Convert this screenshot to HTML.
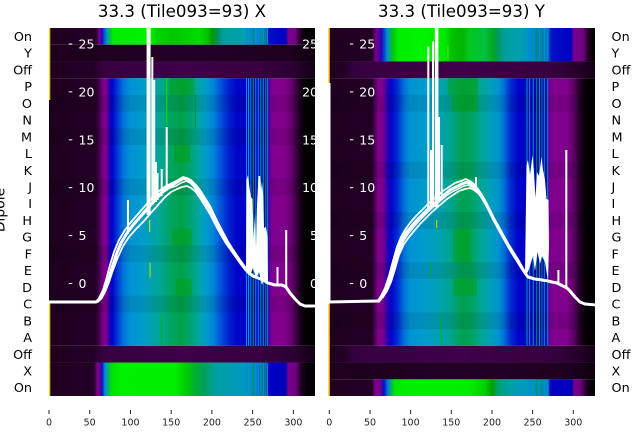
<!DOCTYPE html>
<html><head><meta charset="utf-8"><style>
html,body{margin:0;padding:0;background:#fff;width:640px;height:440px;overflow:hidden}
svg{display:block}
text{font-family:"DejaVu Sans","Liberation Sans",sans-serif}
</style></head><body>
<svg width="640" height="440" viewBox="0 0 640 440" xmlns="http://www.w3.org/2000/svg">
<defs>
<linearGradient id="LM" gradientUnits="userSpaceOnUse" x1="0" y1="0" x2="1000" y2="0">
<stop offset=".049" stop-color="#1d001f"/><stop offset=".096" stop-color="#230026"/><stop offset=".100" stop-color="#50005a"/><stop offset=".103" stop-color="#7c008a"/><stop offset=".107" stop-color="#7c008e"/><stop offset=".109" stop-color="#2000b8"/><stop offset=".113" stop-color="#0008cc"/><stop offset=".118" stop-color="#0040d6"/><stop offset=".124" stop-color="#0078d8"/><stop offset=".130" stop-color="#0092d4"/><stop offset=".142" stop-color="#009ccc"/><stop offset=".152" stop-color="#00a2b0"/><stop offset=".162" stop-color="#00a68c"/><stop offset=".172" stop-color="#00a45c"/><stop offset=".182" stop-color="#00a048"/><stop offset=".190" stop-color="#00a46c"/><stop offset=".198" stop-color="#00a6a0"/><stop offset=".206" stop-color="#009ccc"/><stop offset=".214" stop-color="#0080d8"/><stop offset=".221" stop-color="#0050d8"/><stop offset=".229" stop-color="#0020d0"/><stop offset=".237" stop-color="#0004c8"/><stop offset=".267" stop-color="#0000c4"/><stop offset=".270" stop-color="#6a0098"/><stop offset=".274" stop-color="#80008e"/><stop offset=".286" stop-color="#80008c"/><stop offset=".293" stop-color="#5a0064"/><stop offset=".299" stop-color="#220026"/><stop offset=".304" stop-color="#060006"/><stop offset=".315" stop-color="#000000"/>
</linearGradient>
<linearGradient id="LOnT" gradientUnits="userSpaceOnUse" x1="0" y1="0" x2="1000" y2="0">
<stop offset=".049" stop-color="#1d001f"/><stop offset=".096" stop-color="#230026"/><stop offset=".099" stop-color="#7a0088"/><stop offset=".102" stop-color="#2000c0"/><stop offset=".104" stop-color="#0050d0"/><stop offset=".107" stop-color="#0098c8"/><stop offset=".110" stop-color="#00c040"/><stop offset=".113" stop-color="#00ec00"/><stop offset=".150" stop-color="#00f200"/><stop offset=".157" stop-color="#00d400"/><stop offset=".172" stop-color="#00c800"/><stop offset=".185" stop-color="#00d000"/><stop offset=".200" stop-color="#00dc00"/><stop offset=".208" stop-color="#00c000"/><stop offset=".212" stop-color="#009800"/><stop offset=".218" stop-color="#009060"/><stop offset=".223" stop-color="#00a0a0"/><stop offset=".245" stop-color="#00a0b0"/><stop offset=".248" stop-color="#0090d0"/><stop offset=".266" stop-color="#0070d0"/><stop offset=".268" stop-color="#0010c8"/><stop offset=".286" stop-color="#0000c0"/><stop offset=".288" stop-color="#78008c"/><stop offset=".295" stop-color="#780088"/><stop offset=".299" stop-color="#300036"/><stop offset=".305" stop-color="#080008"/><stop offset=".315" stop-color="#000000"/>
</linearGradient>
<linearGradient id="LOnB" gradientUnits="userSpaceOnUse" x1="0" y1="0" x2="1000" y2="0">
<stop offset=".049" stop-color="#1d001f"/><stop offset=".094" stop-color="#230026"/><stop offset=".097" stop-color="#7a0088"/><stop offset=".100" stop-color="#6a0090"/><stop offset=".102" stop-color="#0010c8"/><stop offset=".105" stop-color="#0090d8"/><stop offset=".108" stop-color="#00b070"/><stop offset=".112" stop-color="#00e000"/><stop offset=".120" stop-color="#00f000"/><stop offset=".175" stop-color="#00ee00"/><stop offset=".185" stop-color="#00d000"/><stop offset=".195" stop-color="#00b030"/><stop offset=".205" stop-color="#00a060"/><stop offset=".215" stop-color="#00a0a0"/><stop offset=".245" stop-color="#0098c0"/><stop offset=".248" stop-color="#0090d0"/><stop offset=".266" stop-color="#0060d0"/><stop offset=".268" stop-color="#0000c8"/><stop offset=".286" stop-color="#0000b8"/><stop offset=".288" stop-color="#78008c"/><stop offset=".296" stop-color="#700080"/><stop offset=".301" stop-color="#200022"/><stop offset=".307" stop-color="#060006"/><stop offset=".315" stop-color="#000000"/>
</linearGradient>
<linearGradient id="RM" gradientUnits="userSpaceOnUse" x1="0" y1="0" x2="1000" y2="0">
<stop offset=".329" stop-color="#1d001f"/><stop offset=".372" stop-color="#230026"/><stop offset=".375" stop-color="#50005a"/><stop offset=".378" stop-color="#7c008a"/><stop offset=".383" stop-color="#7c008e"/><stop offset=".388" stop-color="#2000b8"/><stop offset=".392" stop-color="#0008cc"/><stop offset=".398" stop-color="#0030d4"/><stop offset=".404" stop-color="#0070d8"/><stop offset=".410" stop-color="#0092d4"/><stop offset=".425" stop-color="#009ccc"/><stop offset=".440" stop-color="#00a2b0"/><stop offset=".452" stop-color="#00a488"/><stop offset=".462" stop-color="#00a250"/><stop offset=".472" stop-color="#00a260"/><stop offset=".480" stop-color="#00a690"/><stop offset=".490" stop-color="#00a0b8"/><stop offset=".498" stop-color="#0094d0"/><stop offset=".504" stop-color="#0070d8"/><stop offset=".510" stop-color="#0030d0"/><stop offset=".518" stop-color="#0004c8"/><stop offset=".547" stop-color="#0000c4"/><stop offset=".549" stop-color="#6a0098"/><stop offset=".552" stop-color="#80008e"/><stop offset=".567" stop-color="#80008c"/><stop offset=".574" stop-color="#5a0064"/><stop offset=".580" stop-color="#200024"/><stop offset=".586" stop-color="#050005"/><stop offset=".595" stop-color="#000000"/>
</linearGradient>
<linearGradient id="ROnT" gradientUnits="userSpaceOnUse" x1="0" y1="0" x2="1000" y2="0">
<stop offset=".329" stop-color="#1d001f"/><stop offset=".372" stop-color="#230026"/><stop offset=".376" stop-color="#7a0088"/><stop offset=".381" stop-color="#3000b0"/><stop offset=".384" stop-color="#0040d0"/><stop offset=".387" stop-color="#0090d0"/><stop offset=".390" stop-color="#00a880"/><stop offset=".393" stop-color="#00c800"/><stop offset=".398" stop-color="#00ec00"/><stop offset=".420" stop-color="#00f400"/><stop offset=".445" stop-color="#00e800"/><stop offset=".452" stop-color="#00c000"/><stop offset=".462" stop-color="#00b400"/><stop offset=".470" stop-color="#00c820"/><stop offset=".485" stop-color="#00c040"/><stop offset=".493" stop-color="#00a820"/><stop offset=".498" stop-color="#009860"/><stop offset=".505" stop-color="#00a0a0"/><stop offset=".522" stop-color="#00a0b0"/><stop offset=".526" stop-color="#0090d0"/><stop offset=".548" stop-color="#0070d0"/><stop offset=".551" stop-color="#0010c8"/><stop offset=".571" stop-color="#0000c0"/><stop offset=".574" stop-color="#78008c"/><stop offset=".583" stop-color="#700080"/><stop offset=".588" stop-color="#200022"/><stop offset=".595" stop-color="#000000"/>
</linearGradient>
<linearGradient id="ROnB" gradientUnits="userSpaceOnUse" x1="0" y1="0" x2="1000" y2="0">
<stop offset=".329" stop-color="#1d001f"/><stop offset=".372" stop-color="#230026"/><stop offset=".375" stop-color="#7a0088"/><stop offset=".380" stop-color="#7a0090"/><stop offset=".384" stop-color="#0010c8"/><stop offset=".388" stop-color="#0080d8"/><stop offset=".391" stop-color="#00b060"/><stop offset=".395" stop-color="#00e800"/><stop offset=".420" stop-color="#00f000"/><stop offset=".470" stop-color="#00ec00"/><stop offset=".485" stop-color="#00d000"/><stop offset=".492" stop-color="#00a000"/><stop offset=".498" stop-color="#00a070"/><stop offset=".510" stop-color="#00a0a8"/><stop offset=".526" stop-color="#0098c0"/><stop offset=".548" stop-color="#0080d0"/><stop offset=".550" stop-color="#0000c8"/><stop offset=".572" stop-color="#0000b8"/><stop offset=".574" stop-color="#78008c"/><stop offset=".581" stop-color="#6a007a"/><stop offset=".587" stop-color="#180018"/><stop offset=".595" stop-color="#000000"/>
</linearGradient>
<linearGradient id="DkY" x1="0" y1="0" x2="1" y2="0">
<stop offset="0" stop-color="#1b001d"/><stop offset=".5" stop-color="#220025"/><stop offset=".9" stop-color="#1e0020"/><stop offset="1" stop-color="#0e000f"/>
</linearGradient>
<linearGradient id="DkOff" x1="0" y1="0" x2="1" y2="0">
<stop offset="0" stop-color="#1d001f"/><stop offset=".17" stop-color="#220026"/><stop offset=".2" stop-color="#360040"/><stop offset=".5" stop-color="#3e0048"/><stop offset=".8" stop-color="#38003f"/><stop offset=".92" stop-color="#2a0030"/><stop offset="1" stop-color="#120014"/>
</linearGradient>
<linearGradient id="DkOffR" x1="0" y1="0" x2="1" y2="0">
<stop offset="0" stop-color="#1d001f"/><stop offset=".06" stop-color="#240028"/><stop offset=".1" stop-color="#360040"/><stop offset=".5" stop-color="#3e0048"/><stop offset=".85" stop-color="#36003e"/><stop offset=".95" stop-color="#240028"/><stop offset="1" stop-color="#100012"/>
</linearGradient>
<clipPath id="cL"><rect x="49" y="0" width="266" height="396"/></clipPath>
<clipPath id="cR"><rect x="328.5" y="0" width="266.5" height="396"/></clipPath>
</defs>

<rect x="0" y="0" width="640" height="440" fill="#fff"/>

<text x="182" y="17" font-size="16.67" text-anchor="middle" fill="#000">33.3 (Tile093=93) X</text>
<text x="461.5" y="17" font-size="16.67" text-anchor="middle" fill="#000">33.3 (Tile093=93) Y</text>

<!-- LEFT HEATMAP -->
<g>
<rect x="49" y="28" width="266" height="16.73" fill="url(#LOnT)"/>
<rect x="49" y="78.18" width="266" height="267.64" fill="url(#LM)"/>
<rect x="49" y="362.55" width="266" height="33.45" fill="url(#LOnB)"/>
<g fill="#000" opacity="0.08">
<rect x="49" y="94.91" width="266" height="16.73"/>
<rect x="49" y="128.36" width="266" height="16.73"/>
<rect x="49" y="178.55" width="266" height="16.73"/>
<rect x="49" y="245.45" width="266" height="16.73"/>
<rect x="49" y="295.64" width="266" height="16.73"/>
</g>
<g fill="#00a000" opacity="0.4">
<rect x="172" y="228.73" width="20" height="16.73"/>
<rect x="176" y="278.91" width="16" height="16.73"/>
<rect x="170" y="78.18" width="24" height="16.73"/>
<rect x="174" y="145.09" width="16" height="16.73"/>
</g>
<g>
<rect x="246" y="28" width="1" height="368" fill="#0090d0"/>
<rect x="248" y="28" width="1" height="368" fill="#00a0a0"/>
<rect x="250.3" y="28" width="1" height="368" fill="#0090d8"/>
<rect x="252.8" y="28" width="1" height="368" fill="#009840"/>
<rect x="255.3" y="28" width="1" height="368" fill="#00a0b0"/>
<rect x="257.8" y="28" width="1" height="368" fill="#0090d0"/>
<rect x="260.3" y="28" width="1" height="368" fill="#00a070"/>
<rect x="262.8" y="28" width="1" height="368" fill="#0098c0"/>
<rect x="265.3" y="28" width="1" height="368" fill="#009850"/>
<rect x="267.1" y="28" width="1" height="368" fill="#0090d0"/>
</g>
<rect x="49" y="44.73" width="266" height="16.73" fill="url(#DkY)"/>
<rect x="49" y="61.45" width="266" height="16.73" fill="url(#DkOff)"/>
<rect x="49" y="345.82" width="266" height="16.73" fill="url(#DkOff)"/>
<rect x="149" y="220" width="1.2" height="12" fill="#c0e000"/>
<rect x="149.5" y="262.5" width="1.2" height="15" fill="#a0e000"/>
<rect x="161" y="313" width="1" height="32" fill="#00b020"/>
<rect x="166.2" y="78.2" width="1.2" height="46" fill="#20d000"/>
<rect x="194.8" y="95" width="1" height="33" fill="#008a30"/>
<rect x="49" y="28" width="1.3" height="72" fill="#f0d000"/>
<rect x="49" y="302" width="1.3" height="94" fill="#f0d000"/>
</g>

<!-- RIGHT HEATMAP -->
<g>
<rect x="328.5" y="28" width="266.5" height="33.45" fill="url(#ROnT)"/>
<rect x="328.5" y="78.18" width="266.5" height="267.64" fill="url(#RM)"/>
<rect x="328.5" y="379.27" width="266.5" height="16.73" fill="url(#ROnB)"/>
<g fill="#000" opacity="0.08">
<rect x="328.5" y="94.91" width="266.5" height="16.73"/>
<rect x="328.5" y="161.82" width="266.5" height="16.73"/>
<rect x="328.5" y="212" width="266.5" height="16.73"/>
<rect x="328.5" y="262.18" width="266.5" height="16.73"/>
<rect x="328.5" y="312.36" width="266.5" height="16.73"/>
</g>
<g fill="#00a000" opacity="0.4">
<rect x="448" y="78.18" width="30" height="16.73"/>
<rect x="452" y="94.91" width="26" height="16.73"/>
<rect x="453" y="228.73" width="18" height="33.46"/>
<rect x="453" y="278.91" width="24" height="16.73"/>
</g>
<g>
<rect x="526.5" y="28" width="1" height="368" fill="#00a0a0"/>
<rect x="529.2" y="28" width="1" height="368" fill="#0090d0"/>
<rect x="532.7" y="28" width="1" height="368" fill="#00a0a0"/>
<rect x="536.2" y="28" width="1" height="368" fill="#009830"/>
<rect x="539" y="28" width="1" height="368" fill="#0090d0"/>
<rect x="541.4" y="28" width="1" height="368" fill="#009a40"/>
<rect x="543.8" y="28" width="1" height="368" fill="#0098c8"/>
<rect x="547.2" y="28" width="1" height="368" fill="#00a0a0"/>
</g>
<rect x="328.5" y="61.45" width="266.5" height="16.73" fill="url(#DkOffR)"/>
<rect x="328.5" y="345.82" width="266.5" height="16.73" fill="url(#DkOffR)"/>
<rect x="328.5" y="362.55" width="266.5" height="16.73" fill="url(#DkY)"/>
<rect x="430" y="262.5" width="1" height="15" fill="#00b020"/>
<rect x="436" y="220" width="1.2" height="8" fill="#e0c000"/>
<rect x="441" y="313" width="1" height="32" fill="#00b020"/>
<rect x="447.5" y="45" width="1" height="15" fill="#60e000"/>
<rect x="328.3" y="83" width="2.2" height="218.5" fill="#fff"/>
<rect x="328.5" y="28" width="1.4" height="55" fill="#f0a800"/>
<rect x="328.5" y="301.5" width="1.4" height="94.5" fill="#f0a800"/>
</g>

<!-- LEFT OVERLAY -->
<g clip-path="url(#cL)">
<g fill="none" stroke="#fff" stroke-linejoin="round" stroke-linecap="round">
<polyline stroke-width="3" points="49,302 96,302 100,299 104,292 108,281 112,268 116,255 121,243 127,233 133,225 140,217 147,209 155,200 162,192 168,187 174,184 179,181 184,178 190,181 195,186 200,193 205,200 210,208 215,218 220,228 227,241 233,251 240,261 246,270 249,273 253,276 258,278 263,280 268,283 275,285 282,285 286,287 290,293 295,299 300,304 305,306 316,306"/>
<polyline stroke-width="1.8" points="96,302 101,299 105,292 109,282 113,270 118,257 123,246 129,237 136,229 143,222 150,214 158,205 165,197 171,192 177,189 182,187 187,186 191,188 195,191 200,198 205,206 210,214 215,224 221,235 227,245 233,253 239,261 244,267 248,272"/>
<polyline stroke-width="1.8" points="96,302 99,298 103,290 106,280 110,265 114,252 119,240 125,230 131,222 138,214 145,206 152,198 159,191 166,186 172,183 178,180 183,177 187,178 191,180 195,184 200,190 205,198 210,206 216,219 222,231 228,242 234,251 240,260 246,268"/>
<polyline stroke-width="1.5" points="98,302 102,298 106,289 110,277 114,262 118,250 123,240 129,231 135,224 142,216 149,208 157,199 164,192 170,188 176,186 181,183 186,181 190,183 194,187 199,194 204,202 209,211 214,221 219,231 226,243 232,252 239,262 245,270"/>
</g>
<rect x="146.6" y="15" width="4" height="200" fill="#fff"/>
<g stroke="#fff" stroke-width="2" fill="none">
<line x1="152.3" y1="205" x2="152.3" y2="57"/>
<line x1="154.2" y1="203" x2="154.2" y2="80"/>
<line x1="156" y1="202" x2="156" y2="162"/>
<line x1="157.6" y1="200" x2="157.6" y2="173"/>
<line x1="161.7" y1="196" x2="161.7" y2="169"/>
<line x1="166.7" y1="190" x2="166.7" y2="127"/>
<line x1="128" y1="234" x2="128" y2="200"/>
<line x1="277.5" y1="286" x2="277.5" y2="267"/>
<line x1="286.2" y1="288" x2="286.2" y2="230"/>
</g>
<polygon fill="#fff" points="246,272 246.5,180 248,175 249.5,188 251,197 252.5,199 253.5,238 255,214 256,248 257,205 258.5,176 260.2,176 261,190 262,182 263.2,196 264,228 266,227 267.5,236 268,284 264,279 262,285 259,272 256,279 253,268 250,276 248,274"/>
<g stroke="#fff" stroke-width="1">
<line x1="68.8" y1="44" x2="72.3" y2="44"/>
<line x1="68.8" y1="91.9" x2="72.3" y2="91.9"/>
<line x1="68.8" y1="139.8" x2="72.3" y2="139.8"/>
<line x1="68.8" y1="187.7" x2="72.3" y2="187.7"/>
<line x1="68.8" y1="235.6" x2="72.3" y2="235.6"/>
<line x1="68.8" y1="283.5" x2="72.3" y2="283.5"/>
</g>
<g fill="#fff" font-size="12.5">
<text x="78.5" y="48.5">25</text>
<text x="78.5" y="96.4">20</text>
<text x="78.5" y="144.3">15</text>
<text x="78.5" y="192.2">10</text>
<text x="78.5" y="240.1">5</text>
<text x="78.5" y="288">0</text>
</g>
<g fill="#fff" font-size="12.5" text-anchor="end">
<text x="318" y="48.5">25</text>
<text x="318" y="96.4">20</text>
<text x="318" y="144.3">15</text>
<text x="318" y="192.2">10</text>
<text x="318" y="240.1">5</text>
<text x="318" y="288">0</text>
</g>
</g>

<!-- RIGHT OVERLAY -->
<g clip-path="url(#cR)">
<g fill="none" stroke="#fff" stroke-linejoin="round" stroke-linecap="round">
<polyline stroke-width="3" points="328,302 378,301 382,297 386,290 390,280 394,266 398,251 402,240 406,233 411,227 417,220 423,214 430,207 437,201 444,195 450,190 456,187 462,184 467,182 471,184 475,187 479,192 483,199 487,206 491,214 495,222 500,231 505,240 510,249 515,257 520,265 525,273 528,277 535,279 542,280 548,281 552,282 557,283 563,286 567,288 570,291 575,297 580,302 585,304 596,305"/>
<polyline stroke-width="1.8" points="378,301 383,297 387,291 391,282 395,269 399,255 404,244 409,237 414,231 420,224 426,218 433,211 440,205 447,199 453,195 459,191 465,189 470,188 474,190 478,193 482,198 486,204 490,211 494,219 498,228 503,237 508,246 513,254 518,262 523,270 527,276"/>
<polyline stroke-width="1.8" points="378,301 381,296 385,288 389,276 393,261 397,247 401,237 405,230 410,223 416,216 422,210 429,203 436,197 443,191 449,187 455,183 461,181 466,179 470,181 474,184 478,189 482,195 486,202 490,210 494,218 499,227 504,236 509,245 514,253 519,261 524,270"/>
<polyline stroke-width="1.5" points="379,302 382,298 386,291 390,281 394,268 398,254 403,242 408,234 413,228 419,221 425,215 432,208 439,202 446,196 452,192 458,189 464,186 468,185 472,187 476,190 480,195 484,202 488,209 492,217 496,225 501,234 506,243 511,252 516,260 521,268 526,275"/>
</g>
<rect x="434.8" y="15" width="3.6" height="192" fill="#fff"/>
<g stroke="#fff" stroke-width="2" fill="none">
<line x1="428.3" y1="210" x2="428.3" y2="46.5"/>
<line x1="433" y1="206" x2="433" y2="41.5"/>
<line x1="431" y1="208" x2="431" y2="150"/>
<line x1="439" y1="202" x2="439" y2="117"/>
<line x1="441.7" y1="200" x2="441.7" y2="145"/>
<line x1="476" y1="189" x2="476" y2="177"/>
<line x1="558.4" y1="284" x2="558.4" y2="270"/>
<line x1="566.3" y1="288" x2="566.3" y2="150"/>
</g>
<polygon fill="#fff" points="525,275 526.5,165 528,160 530,175 532.5,155 534,172 535.5,198 537,172 539,176 541.5,157 543,170 545,180 546.5,199 548.5,200 549,245 548,281 545,262 542,256 540,264 537.5,252 535,271 533,256 530,266 528,272"/>
<g stroke="#fff" stroke-width="1">
<line x1="349.8" y1="44" x2="353.3" y2="44"/>
<line x1="349.8" y1="91.9" x2="353.3" y2="91.9"/>
<line x1="349.8" y1="139.8" x2="353.3" y2="139.8"/>
<line x1="349.8" y1="187.7" x2="353.3" y2="187.7"/>
<line x1="349.8" y1="235.6" x2="353.3" y2="235.6"/>
<line x1="349.8" y1="283.5" x2="353.3" y2="283.5"/>
</g>
<g fill="#fff" font-size="12.5">
<text x="359.3" y="48.5">25</text>
<text x="359.3" y="96.4">20</text>
<text x="359.3" y="144.3">15</text>
<text x="359.3" y="192.2">10</text>
<text x="359.3" y="240.1">5</text>
<text x="359.3" y="288">0</text>
</g>
</g>

<g font-size="12.8" fill="#000" text-anchor="end">
<text x="32" y="41">On</text>
<text x="32" y="57.7">Y</text>
<text x="32" y="74.4">Off</text>
<text x="32" y="91.1">P</text>
<text x="32" y="107.9">O</text>
<text x="32" y="124.6">N</text>
<text x="32" y="141.3">M</text>
<text x="32" y="158.1">L</text>
<text x="32" y="174.8">K</text>
<text x="32" y="191.5">J</text>
<text x="32" y="208.2">I</text>
<text x="32" y="225">H</text>
<text x="32" y="241.7">G</text>
<text x="32" y="258.4">F</text>
<text x="32" y="275.1">E</text>
<text x="32" y="291.9">D</text>
<text x="32" y="308.6">C</text>
<text x="32" y="325.3">B</text>
<text x="32" y="342.1">A</text>
<text x="32" y="358.8">Off</text>
<text x="32" y="375.5">X</text>
<text x="32" y="392.2">On</text>
</g>
<g font-size="12.8" fill="#000">
<text x="611.5" y="41">On</text>
<text x="611.5" y="57.7">Y</text>
<text x="611.5" y="74.4">Off</text>
<text x="611.5" y="91.1">P</text>
<text x="611.5" y="107.9">O</text>
<text x="611.5" y="124.6">N</text>
<text x="611.5" y="141.3">M</text>
<text x="611.5" y="158.1">L</text>
<text x="611.5" y="174.8">K</text>
<text x="611.5" y="191.5">J</text>
<text x="611.5" y="208.2">I</text>
<text x="611.5" y="225">H</text>
<text x="611.5" y="241.7">G</text>
<text x="611.5" y="258.4">F</text>
<text x="611.5" y="275.1">E</text>
<text x="611.5" y="291.9">D</text>
<text x="611.5" y="308.6">C</text>
<text x="611.5" y="325.3">B</text>
<text x="611.5" y="342.1">A</text>
<text x="611.5" y="358.8">Off</text>
<text x="611.5" y="375.5">X</text>
<text x="611.5" y="392.2">On</text>
</g>

<text transform="translate(4.5,210) rotate(-90)" font-size="13.9" text-anchor="middle" fill="#000">Dipole</text>

<g stroke="#222" stroke-width="1">
<line x1="49" y1="410" x2="49" y2="414"/>
<line x1="89.7" y1="410" x2="89.7" y2="414"/>
<line x1="130.5" y1="410" x2="130.5" y2="414"/>
<line x1="171.2" y1="410" x2="171.2" y2="414"/>
<line x1="211.9" y1="410" x2="211.9" y2="414"/>
<line x1="252.6" y1="410" x2="252.6" y2="414"/>
<line x1="293.4" y1="410" x2="293.4" y2="414"/>
<line x1="329.3" y1="410" x2="329.3" y2="414"/>
<line x1="370" y1="410" x2="370" y2="414"/>
<line x1="410.6" y1="410" x2="410.6" y2="414"/>
<line x1="451.3" y1="410" x2="451.3" y2="414"/>
<line x1="492" y1="410" x2="492" y2="414"/>
<line x1="532.6" y1="410" x2="532.6" y2="414"/>
<line x1="573.3" y1="410" x2="573.3" y2="414"/>
</g>
<g font-size="9.5" fill="#222" text-anchor="middle">
<text x="49" y="425.7">0</text>
<text x="89.7" y="425.7">50</text>
<text x="130.5" y="425.7">100</text>
<text x="171.2" y="425.7">150</text>
<text x="211.9" y="425.7">200</text>
<text x="252.6" y="425.7">250</text>
<text x="293.4" y="425.7">300</text>
<text x="329.3" y="425.7">0</text>
<text x="370" y="425.7">50</text>
<text x="410.6" y="425.7">100</text>
<text x="451.3" y="425.7">150</text>
<text x="492" y="425.7">200</text>
<text x="532.6" y="425.7">250</text>
<text x="573.3" y="425.7">300</text>
</g>
</svg>
</body></html>
